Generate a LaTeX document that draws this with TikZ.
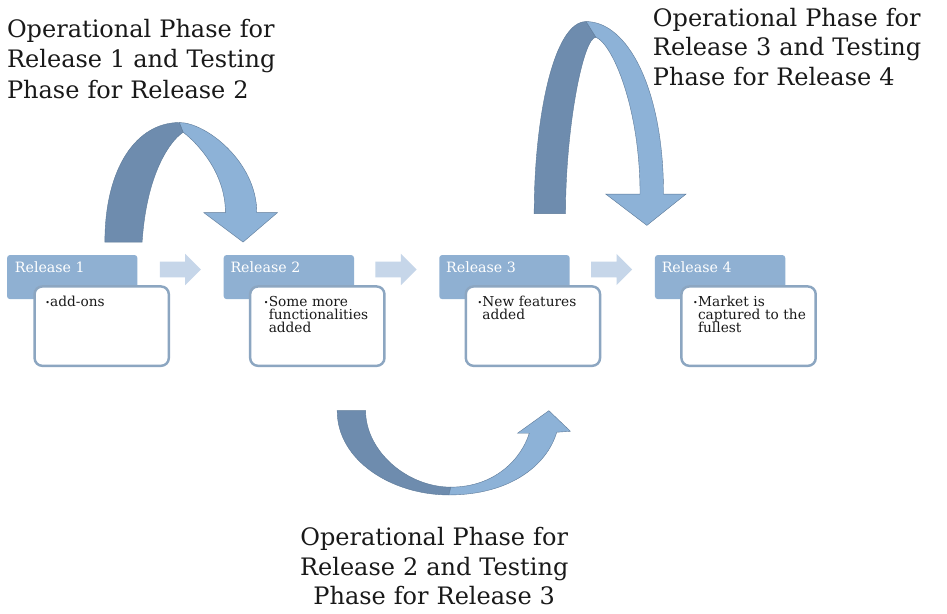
\documentclass[tikz,border=0pt]{standalone}
\usepackage{fontspec}
\setmainfont{DejaVu Serif}

\definecolor{headblue}{RGB}{143,176,210}
\definecolor{itemedge}{RGB}{140,166,193}
\definecolor{steparrow}{RGB}{198,214,233}
\definecolor{arcdark}{RGB}{110,140,174}
\definecolor{arclight}{RGB}{141,178,215}
\definecolor{arcedge}{RGB}{92,121,152}
\definecolor{phaseink}{RGB}{25,25,25}

% small bullet hung out in front of the first line
\newcommand\itemdot{\llap{\makebox[5pt][l]{\raisebox{1.5pt}{\fontsize{8}{8}\selectfont\textbullet}}}}

\tikzset{
	headbox/.style={rectangle, rounded corners=3pt, fill=headblue, minimum width=133pt, minimum height=45pt, inner sep=0pt, anchor=north west},
	itembox/.style={rectangle, rounded corners=8pt, draw=itemedge, line width=2.5pt, fill=white, minimum width=137pt, minimum height=81pt, inner sep=0pt, anchor=north west},
	headtext/.style={anchor=base west, inner sep=0pt, text=white, font=\fontsize{14.5}{16}\selectfont},
	itemtext/.style={anchor=base west, inner sep=0pt, text width=115pt, align=left, text=phaseink, font={\fontsize{14}{13.3}\selectfont\lineskiplimit=-6pt}},
	phasetext/.style={inner sep=0pt, text width=300pt, text=phaseink, font=\fontsize{24.5}{30}\selectfont},
}

\begin{document}
\begin{tikzpicture}[x=1pt,y=-1pt]

\def\DARKARC{arcdark}
\def\LIGHTARC{arclight}
\def\ARCEDGE{arcedge}
\def\STEPCOLOR{steparrow}
	\fill[white] (0,0) rectangle (947,626);

	% release boxes
	\node[headbox] (h1) at (7,260) {};
	\node[headbox] (h2) at (228,260) {};
	\node[headbox] (h3) at (448,260) {};
	\node[headbox] (h4) at (668,260) {};
	\node[itembox] (c1) at (34,291) {};
	\node[itembox] (c2) at (254,291) {};
	\node[itembox] (c3) at (474,291) {};
	\node[itembox] (c4) at (694,291) {};
	\node[headtext] (r1) at (15,278) {Release 1};
	\node[headtext] (r2) at (235,278) {Release 2};
	\node[headtext] (r3) at (455,278) {Release 3};
	\node[headtext] (r4) at (675,278) {Release 4};
	\node[itemtext] (i1) at (51,313) {\itemdot add-ons};
	\node[itemtext] (i2) at (274,313) {\itemdot Some more\\functionalities\\added};
	\node[itemtext] (i3) at (492,313) {\itemdot New features\\added};
	\node[itemtext] (i4) at (712,313) {\itemdot Market is\\captured to the\\fullest};

	% arrows between the releases
	\fill[\STEPCOLOR] (163,267) -- (189,267) -- (189,259) -- (205,275) -- (189,291) -- (189,283) -- (163,283) -- cycle;
	\fill[\STEPCOLOR] (383,267) -- (409,267) -- (409,259) -- (425,275) -- (409,291) -- (409,283) -- (383,283) -- cycle;
	\fill[\STEPCOLOR] (603,267) -- (629,267) -- (629,259) -- (645,275) -- (629,291) -- (629,283) -- (603,283) -- cycle;

	% arch from release 1 over to release 2
	\filldraw[fill=\DARKARC, draw=\ARCEDGE] (107,247) .. controls (107,170) and (140,125) .. (183,125) -- (187,135) .. controls (178,140) and (150,170) .. (145,247) -- cycle;
	\filldraw[fill=\LIGHTARC, draw=\ARCEDGE] (183,125) .. controls (210,125) and (262,165) .. (262,217) -- (283,217) -- (248,247) -- (208,217) -- (230,217) .. controls (230,175) and (200,145) .. (187,135) -- cycle;

	% tall arch from release 3 over to release 4
	\filldraw[fill=\DARKARC, draw=\ARCEDGE] (545,218) .. controls (545,120) and (565,22) .. (598,22) -- (608,38) .. controls (595,38) and (577,130) .. (577,218) -- cycle;
	\filldraw[fill=\LIGHTARC, draw=\ARCEDGE] (598,22) .. controls (640,22) and (677,90) .. (677,198) -- (700,198) -- (660,230) -- (618,198) -- (653,198) .. controls (653,110) and (625,45) .. (608,38) -- cycle;

	% bowl under release 2 and release 3
	\filldraw[fill=\DARKARC, draw=\ARCEDGE] (344,419) .. controls (344,470) and (400,505) .. (458,505) -- (460,497) .. controls (415,497) and (373,460) .. (373,419) -- cycle;
	\filldraw[fill=\LIGHTARC, draw=\ARCEDGE] (458,505) .. controls (520,505) and (558,475) .. (568,441) -- (582,440) -- (560,419) -- (528,442) -- (540,442) .. controls (532,468) and (505,497) .. (460,497) -- cycle;

	% phase labels
	\node[phasetext, align=left, anchor=base west, font=\fontsize{24.5}{31}\selectfont] (p1) at (7,38) {Operational Phase for\\Release 1 and Testing\\Phase for Release 2};
	\node[phasetext, align=left, anchor=base west] (p3) at (666,27) {Operational Phase for\\Release 3 and Testing\\Phase for Release 4};
	\node[phasetext, align=center, anchor=base] (p2) at (443,557) {Operational Phase for\\Release 2 and Testing\\Phase for Release 3};

\end{tikzpicture}
\end{document}
